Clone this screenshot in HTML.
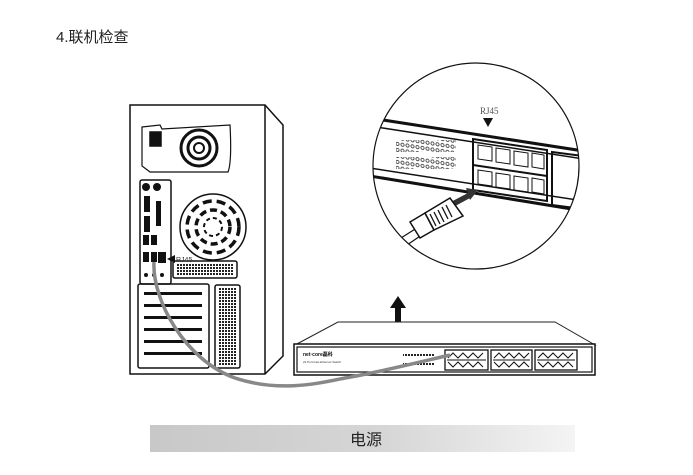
<!DOCTYPE html>
<html><head><meta charset="utf-8"><style>
html,body{margin:0;padding:0;background:#fff;width:693px;height:475px;overflow:hidden}
svg{display:block}
</style></head><body>
<svg width="693" height="475" viewBox="0 0 693 475" xmlns="http://www.w3.org/2000/svg">
<defs>
<pattern id="dots" width="3" height="3" patternUnits="userSpaceOnUse"><rect width="3" height="3" fill="#fff"/><rect width="2" height="2" fill="#222"/></pattern>
<pattern id="leds" width="5" height="6" patternUnits="userSpaceOnUse" patternTransform="skewY(9)"><circle cx="2.5" cy="3" r="1.6" fill="none" stroke="#222" stroke-width="0.8"/></pattern>
<linearGradient id="bar" x1="0" x2="1"><stop offset="0" stop-color="#c8c8c8"/><stop offset="0.55" stop-color="#d6d6d6"/><stop offset="1" stop-color="#f4f4f4"/></linearGradient>
<clipPath id="cc"><circle cx="476" cy="166" r="103"/></clipPath>
</defs>
<text x="56" y="42" font-family="Liberation Sans, Noto Sans CJK SC, sans-serif" font-size="15" fill="#222">4.联机检查</text>

<!-- computer -->
<g stroke="#111" fill="none" stroke-width="1.5">
<polygon points="130,105 265,105 283,125 283,356 265,374 130,374" fill="#fff"/>
<line x1="265" y1="105" x2="265" y2="374"/>
<path d="M142,127 L160,125 L162,129 L230,125 Q232,162 228,172 L150,172 L142,166 Z" stroke-width="1.2"/>
<rect x="150" y="132" width="11" height="14" fill="#111"/>
<circle cx="199" cy="148" r="18" stroke-width="3"/>
<circle cx="199" cy="148" r="11" stroke-width="3"/>
<circle cx="199" cy="148" r="5" stroke-width="2"/>
<rect x="140" y="180" width="31" height="104" rx="2"/>
<circle cx="213" cy="227" r="33"/>
<circle cx="213" cy="227" r="26" stroke-width="3.5" stroke-dasharray="9 5"/>
<circle cx="213" cy="227" r="17" stroke-width="3.5" stroke-dasharray="7 4"/>
<circle cx="213" cy="227" r="9" stroke-width="2" stroke-dasharray="4 3"/>
<rect x="173" y="261" width="64" height="17" rx="2"/>
<rect x="176" y="264" width="58" height="11" fill="url(#dots)" stroke="none"/>
<rect x="138" y="284" width="71" height="84" rx="2"/>
<rect x="215" y="285" width="25" height="83" rx="2"/>
<rect x="218" y="288" width="19" height="77" fill="url(#dots)" stroke="none"/>
</g>
<g fill="#111">
<circle cx="146" cy="187" r="4"/><circle cx="157" cy="187" r="4"/>
<rect x="144" y="196" width="6" height="16"/><rect x="156" y="201" width="5" height="25"/>
<rect x="144" y="216" width="6" height="16"/>
<rect x="143" y="235" width="6" height="10"/><rect x="151" y="235" width="6" height="10"/>
<rect x="143" y="252" width="6" height="10"/><rect x="151" y="252" width="6" height="10"/><rect x="158" y="252" width="8" height="11"/>
<circle cx="146" cy="275" r="2"/><circle cx="154" cy="275" r="2"/><circle cx="162" cy="275" r="2"/>
<rect x="144" y="292" width="58" height="3"/><rect x="144" y="304" width="58" height="3"/><rect x="144" y="316" width="58" height="3"/>
<rect x="144" y="328" width="58" height="3"/><rect x="144" y="340" width="58" height="3"/><rect x="144" y="352" width="58" height="3"/>
<polygon points="167,259 175,255 175,263"/>
</g>
<text x="176" y="262" font-family="Liberation Sans, sans-serif" font-size="7" fill="#333">RJ45</text>

<!-- magnifier -->
<circle cx="476" cy="166" r="103" fill="#fff" stroke="#111" stroke-width="1.2"/>
<g clip-path="url(#cc)" stroke="#111" fill="none">
<line x1="370" y1="118" x2="590" y2="152" stroke-width="3"/>
<line x1="370" y1="126" x2="590" y2="160" stroke-width="1.5"/>
<line x1="370" y1="168" x2="590" y2="202" stroke-width="1.5"/>
<line x1="370" y1="176" x2="590" y2="212" stroke-width="3"/>
<polygon points="473,139 547,150 547,201 473,190" stroke-width="2"/>
<line x1="473" y1="165" x2="547" y2="176" stroke-width="2"/>
<g stroke-width="1"><path d="M478,145 l14,2 v14 l-14,-2z M496,148 l14,2 v14 l-14,-2z M514,151 l14,2 v14 l-14,-2z M532,153 l12,2 v14 l-12,-2z"/>
<path d="M478,170 l14,2 v14 l-14,-2z M496,173 l14,2 v14 l-14,-2z M514,176 l14,2 v14 l-14,-2z M532,178 l12,2 v14 l-12,-2z"/></g>
<polygon points="552,152 590,157 590,210 552,205" stroke-width="2"/>
<rect x="396" y="140" width="60" height="12" fill="url(#leds)" stroke="none"/>
<rect x="396" y="157" width="60" height="12" fill="url(#leds)" stroke="none"/>
<g fill="#333" stroke="none">
<polygon points="443,206 468,193 470,198 446,211"/><polygon points="466,188 478,190 470,200"/>
</g>
<path d="M385,248 L420,226 M391,256 L426,232" stroke-width="1.2"/>
<polygon points="410,222 425,213 434,230 420,238" fill="#fff" stroke-width="1.5"/>
<polygon points="425,213 450,198 463,216 434,230" fill="#fff" stroke-width="1.5"/>
<path d="M430,214 l6,12 M434,212 l6,12 M438,210 l6,12 M442,207 l6,12 M446,205 l6,12" stroke-width="1.3"/>
</g>
<text x="480" y="114" font-family="Liberation Serif, serif" font-size="9" fill="#555">RJ45</text>
<polygon points="483,118 493,118 488,127" fill="#111"/>

<!-- arrow -->
<polygon points="398,296 390,308 395,308 395,335 401,335 401,308 406,308" fill="#111"/>

<!-- switch -->
<polygon points="295,345 338,322 555,322 595,345" fill="#fff" stroke="#222" stroke-width="1"/>
<rect x="294" y="344" width="301" height="31" fill="#fff" stroke="#111" stroke-width="1.5"/>
<rect x="297" y="347" width="295" height="25" fill="none" stroke="#111" stroke-width="1.2"/>
<text x="303" y="356" font-family="Liberation Sans, sans-serif" font-size="5" font-weight="bold" fill="#111">net·core磊科</text>
<text x="303" y="363" font-family="Liberation Sans, sans-serif" font-size="3" fill="#333">24 Port Fast Ethernet Switch</text>
<rect x="403" y="353" width="32" height="3" fill="url(#dots)"/><rect x="403" y="362" width="32" height="3" fill="url(#dots)"/>
<g stroke="#111" fill="#fff" stroke-width="1.3">
<rect x="445" y="350" width="43" height="20"/><rect x="491" y="350" width="41" height="20"/><rect x="535" y="350" width="42" height="20"/>
</g>
<g stroke="#111" stroke-width="1" fill="none">
<path d="M447,360 h39 M493,360 h37 M537,360 h38"/>
<path d="M448,358 l5,-5 l5,5 l5,-5 l5,5 l5,-5 l5,5 l5,-5 M494,358 l5,-5 l5,5 l5,-5 l5,5 l5,-5 l5,5 l5,-5 M538,358 l5,-5 l5,5 l5,-5 l5,5 l5,-5 l5,5 l5,-5"/>
<path d="M448,362 l5,5 l5,-5 l5,5 l5,-5 l5,5 l5,-5 l5,5 M494,362 l5,5 l5,-5 l5,5 l5,-5 l5,5 l5,-5 l5,5 M538,362 l5,5 l5,-5 l5,5 l5,-5 l5,5 l5,-5 l5,5"/>
</g>

<!-- cable -->
<path d="M154,262 C152,300 185,360 235,378 C280,393 320,383 345,378 C380,372 420,362 450,355" fill="none" stroke="#888" stroke-width="3.5"/>

<!-- bottom bar -->
<rect x="150" y="425" width="425" height="27" fill="url(#bar)"/>
<text x="366" y="445" text-anchor="middle" font-family="Liberation Sans, Noto Sans CJK SC, sans-serif" font-size="16" fill="#222">电源</text>
</svg>
</body></html>
